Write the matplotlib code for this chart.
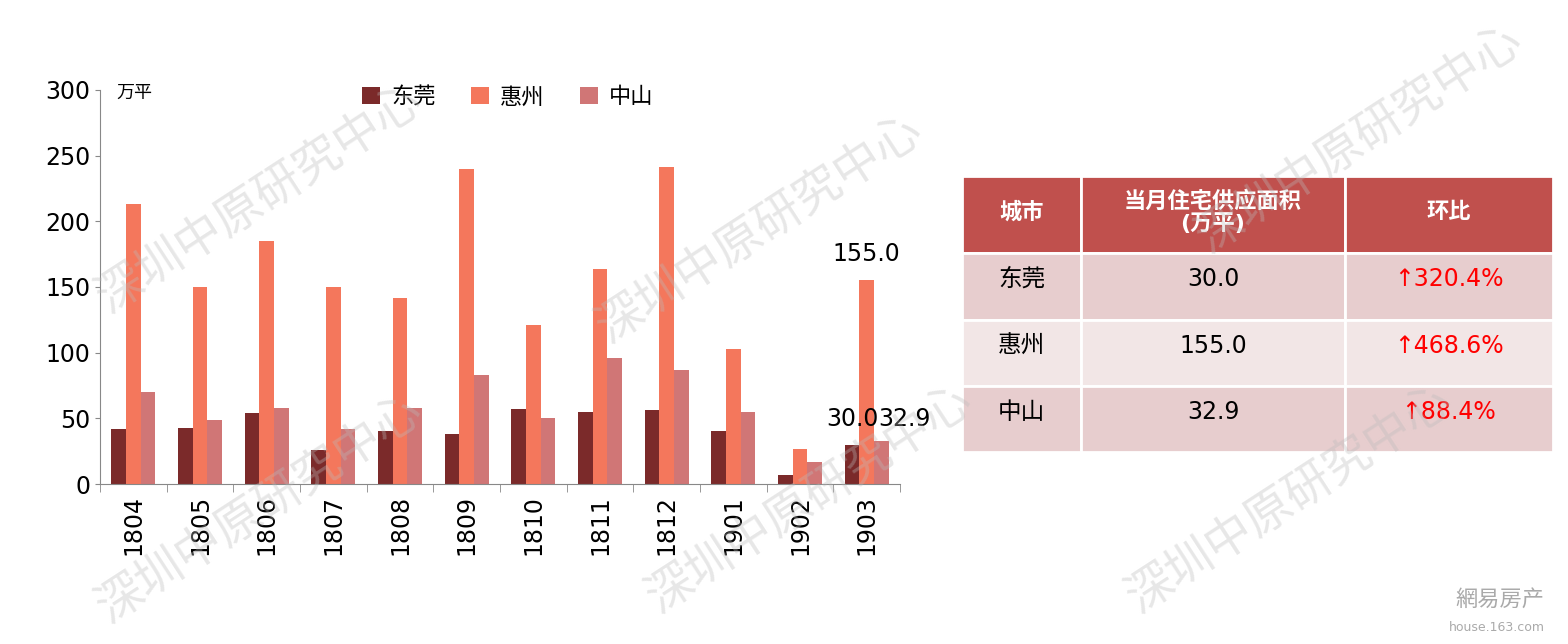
import matplotlib.pyplot as plt
from matplotlib.patches import Rectangle
import numpy as np

CJK = ['DejaVu Sans', 'Noto Sans CJK SC', 'Noto Sans CJK JP', 'Noto Sans CJK TC', 'Noto Sans CJK KR']
plt.rcParams['font.family'] = CJK

months = ['1804', '1805', '1806', '1807', '1808', '1809', '1810', '1811', '1812', '1901', '1902', '1903']
dongguan = [42, 43, 54, 26, 40, 38, 57, 55, 56, 40, 7, 30.0]
huizhou = [213, 150, 185, 150, 142, 240, 121, 164, 241, 103, 27, 155.0]
zhongshan = [70, 49, 58, 42, 58, 83, 50, 96, 87, 55, 17, 32.9]

table_header = ['城市', '当月住宅供应面积\n(万平)', '环比']
table_cities = ['东莞', '惠州', '中山']
table_area = ['30.0', '155.0', '32.9']
table_change = ['↑320.4%', '↑468.6%', '↑88.4%']

W, H = 1568, 644
fig = plt.figure(figsize=(W / 100, H / 100), dpi=100)
ax = fig.add_axes([100 / W, 1 - 484 / H, 800 / W, 394 / H])

x = np.arange(len(months))
w = 0.22
ax.bar(x - w, dongguan, w, color='#7B2A2A', label='东莞')
ax.bar(x, huizhou, w, color='#F4775C', label='惠州')
ax.bar(x + w, zhongshan, w, color='#D07676', label='中山')

ax.set_xlim(-0.5, len(months) - 0.5)
ax.set_ylim(0, 300)
ax.set_yticks(range(0, 301, 50))
ax.set_xticks(x)
ax.set_xticklabels(months, rotation=90, fontsize=17)
ax.tick_params(axis='y', labelsize=17)
for s in ['top', 'right']:
    ax.spines[s].set_visible(False)
ax.spines['left'].set_color('#888888')
ax.spines['bottom'].set_color('#888888')
ax.set_xticks(np.arange(len(months) + 1) - 0.5, minor=True)
ax.tick_params(axis='x', which='major', length=0, pad=8)
ax.tick_params(axis='x', which='minor', length=6, color='#888888')
ax.tick_params(axis='y', color='#888888')

ax.text(-0.25, 305, '万平', fontsize=13, va='top')
ax.legend(loc='upper center', bbox_to_anchor=(0.51, 1.06), ncol=3, frameon=False,
          fontsize=16, handlelength=0.8, handleheight=0.8, columnspacing=1.6, handletextpad=0.5)

i = len(months) - 1
ax.text(x[i], huizhou[i] + 15, f'{huizhou[i]:.1f}', ha='center', fontsize=17)
ax.text(x[i] - w, dongguan[i] + 14, f'{dongguan[i]:.1f}', ha='center', fontsize=17)
ax.text(x[i] + w + 0.35, zhongshan[i] + 11, f'{zhongshan[i]:.1f}', ha='center', fontsize=17)

# table
cols = [962, 1081, 1345, 1553]
rows = [176, 253, 320, 386, 452]
row_colors = ['#C0504D', '#E7CDCE', '#F2E6E6', '#E7CDCE']
cells = [table_header] + [[c, a, ch] for c, a, ch in zip(table_cities, table_area, table_change)]
for r in range(4):
    for c in range(3):
        x0, x1 = cols[c], cols[c + 1]
        y0, y1 = rows[r], rows[r + 1]
        fig.add_artist(Rectangle((x0 / W, 1 - y1 / H), (x1 - x0) / W, (y1 - y0) / H,
                                 transform=fig.transFigure, facecolor=row_colors[r],
                                 edgecolor='white', linewidth=2))
        txt = cells[r][c]
        if r == 0:
            fig.text((x0 + x1) / 2 / W, 1 - (y0 + 36) / H, txt, ha='center', va='center',
                     color='white', fontsize=16, fontweight='bold', linespacing=1.1)
        else:
            color = 'red' if c == 2 else 'black'
            fig.text((x0 + x1) / 2 / W, 1 - (y0 + 26) / H, txt, ha='center', va='center',
                     color=color, fontsize=17)

# watermarks
for (wx, wy) in [(260, 200), (760, 230), (1360, 140), (260, 510), (810, 500), (1290, 500)]:
    fig.text(wx / W, 1 - wy / H, '深圳中原研究中心', rotation=33, fontsize=34,
             color='#BBBBBB', alpha=0.35, ha='center', va='center')
fig.text(0.985, 0.06, '網易房产', ha='right', fontsize=16, color='#AAAAAA')
fig.text(0.985, 0.02, 'house.163.com', ha='right', fontsize=9, color='#AAAAAA')

fig.savefig('out.png', dpi=100)
